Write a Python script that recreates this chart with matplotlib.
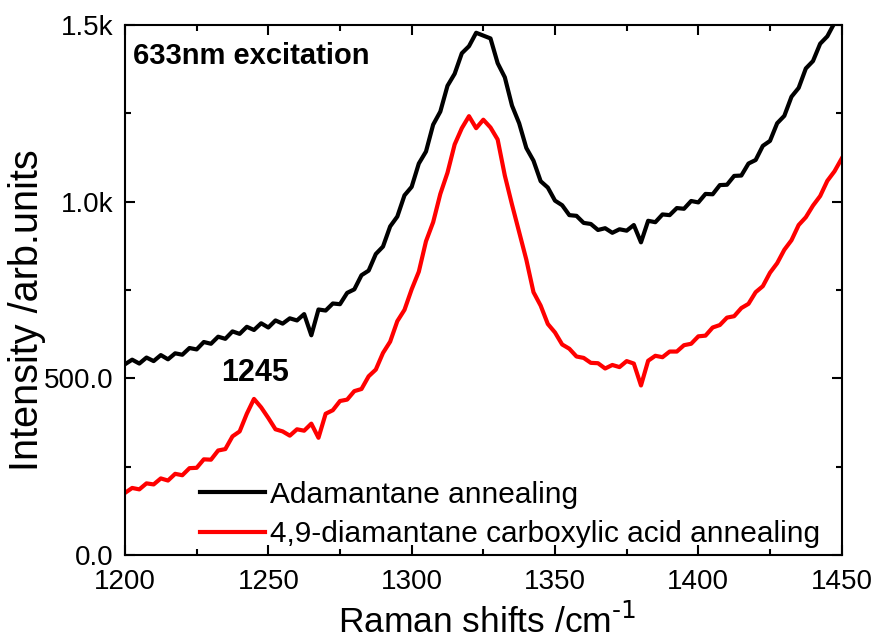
import matplotlib
matplotlib.use('Agg')
import matplotlib.pyplot as plt
from matplotlib.ticker import MultipleLocator
import numpy as np

plt.rcParams['font.family'] = ['Liberation Sans', 'DejaVu Sans']

# Raman shift axis, 2.5 cm-1 steps
shift = np.arange(1200, 1450.1, 2.5)

adamantane = [540, 553, 542, 559, 549, 566, 554, 571, 567, 586,
              582, 603, 598, 618, 612, 633, 626, 646, 637, 656,
              644, 664, 655, 670, 664, 682, 622, 695, 692, 712,
              710, 742, 752, 792, 805, 852, 873, 930, 958, 1018,
              1042, 1108, 1142, 1218, 1255, 1328, 1362, 1420, 1440, 1478,
              1470, 1462, 1392, 1352, 1272, 1222, 1152, 1116, 1058, 1040,
              1003, 990, 962, 960, 940, 937, 920, 925, 912, 922,
              918, 934, 885, 946, 942, 964, 962, 982, 980, 1002,
              998, 1022, 1021, 1047, 1048, 1073, 1074, 1108, 1118, 1158,
              1172, 1222, 1243, 1297, 1322, 1377, 1398, 1447, 1468, 1506,
              1525]

diamantane = [176, 190, 186, 203, 200, 217, 211, 230, 226, 246,
              247, 271, 270, 296, 300, 336, 350, 400, 442, 418,
              388, 356, 350, 338, 356, 352, 372, 332, 400, 410,
              436, 440, 464, 470, 506, 525, 572, 604, 662, 694,
              752, 802, 888, 942, 1022, 1082, 1162, 1208, 1242, 1208,
              1232, 1210, 1176, 1074, 992, 914, 836, 744, 706, 654,
              630, 596, 584, 562, 558, 544, 543, 528, 538, 532,
              549, 542, 480, 550, 564, 560, 576, 576, 594, 598,
              619, 621, 644, 651, 672, 676, 699, 711, 744, 761,
              799, 826, 864, 891, 934, 956, 989, 1016, 1059, 1086,
              1122]

ytick_vals = [0, 500, 1000, 1500]
ytick_labels = ['0.0', '500.0', '1.0k', '1.5k']

fig = plt.figure(figsize=(8.74, 6.41), dpi=100)
ax = fig.add_axes([0.143, 0.134, 0.820, 0.827])

ax.plot(shift, adamantane, color='black', lw=3, label='Adamantane annealing')
ax.plot(shift, diamantane, color='red', lw=3,
        label='4,9-diamantane carboxylic acid annealing')

ax.set_xlim(1200, 1450)
ax.set_ylim(0, 1500)
ax.xaxis.set_major_locator(MultipleLocator(50))
ax.xaxis.set_minor_locator(MultipleLocator(25))
ax.set_yticks(ytick_vals)
ax.set_yticklabels(ytick_labels)
ax.yaxis.set_minor_locator(MultipleLocator(250))
ax.tick_params(which='both', direction='in', top=True, right=True, width=1.5)
ax.tick_params(which='major', length=7, labelsize=20)
ax.tick_params(which='minor', length=4)
ax.tick_params(axis='x', which='major', pad=10)
ax.tick_params(axis='y', which='major', pad=8)
for s in ax.spines.values():
    s.set_linewidth(1.5)

ax.set_xlabel('Raman shifts /cm$^{\\text{-1}}$', fontsize=25.5)
ax.set_ylabel('Intensity /arb.units', fontsize=28.5)
ax.xaxis.set_label_coords(0.505, -0.092)
ax.yaxis.set_label_coords(-0.11, 0.462)

ax.text(0.011, 0.968, '633nm excitation', transform=ax.transAxes,
        fontsize=21, fontweight='bold', va='top', ha='left')
ax.text(1245.3, 515, '1245', fontsize=22, fontweight='bold',
        ha='center', va='center')

ax.legend(loc='upper left', bbox_to_anchor=(0.105, 0.14), frameon=False,
          fontsize=21.5, handlelength=2.17, handletextpad=0.17,
          borderpad=0, borderaxespad=0, labelspacing=0.38)

plt.savefig('out.png', dpi=100)
